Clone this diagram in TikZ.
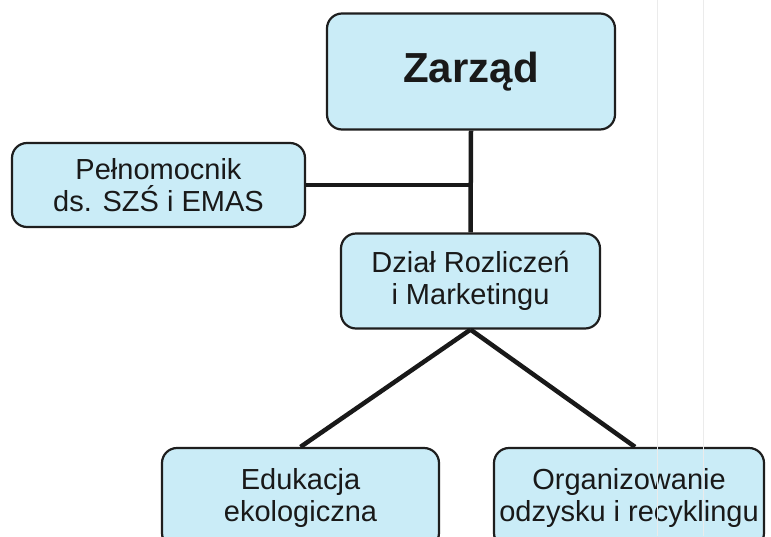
\documentclass[tikz,border=0pt]{standalone}
\usepackage{fontspec}
\setmainfont{Liberation Sans}
\definecolor{boxfill}{RGB}{202,236,247}
\definecolor{edge}{RGB}{30,30,30}
\definecolor{ink}{RGB}{25,25,25}
\begin{document}
\begin{tikzpicture}[x=1pt,y=-1pt,
  orgbox/.style={draw=edge,line width=2.2pt,fill=boxfill,rounded corners=15pt,
    inner sep=0pt,align=center,text=ink,font=\fontsize{29}{32}\selectfont},
  link/.style={draw=black!90,line width=4.5pt},
  scanline/.style={draw=black!8,line width=1pt}]
\useasboundingbox (0,0) rectangle (771,536);
\clip (0,0) rectangle (771,536);
\fill[white] (0,0) rectangle (771,536);
\node[orgbox,minimum width=288pt,minimum height=116pt,
  font=\fontsize{42}{46}\selectfont\bfseries] (zarzad) at (471,71.5) {Zarząd};
\node[orgbox,minimum width=293pt,minimum height=84pt] (pelnom) at (158.5,185)
  {Pełnomocnik\\ds. SZŚ i EMAS};
\node[orgbox,minimum width=259pt,minimum height=95pt] (dzial) at (470.5,281)
  {Dział Rozliczeń\\i Marketingu};
\node[orgbox,minimum width=277pt,minimum height=100pt] (eduk) at (300.5,498)
  {Edukacja\\ekologiczna};
\node[orgbox,minimum width=270pt,minimum height=100pt] (organ) at (629,498)
  {Organizowanie\\odzysku i recyklingu};
\coordinate (joint) at (pelnom.east -| zarzad.south);
\draw[link] (zarzad.south) -- (dzial.north);
\draw[link] (pelnom.east) -- (joint);
\draw[link] (dzial.south) -- (eduk.north);
\draw[link] (dzial.south) -- ([xshift=6pt]organ.north);
\draw[scanline] (657,0) -- (657,536);
\draw[scanline] (703,0) -- (703,536);
\end{tikzpicture}
\end{document}
